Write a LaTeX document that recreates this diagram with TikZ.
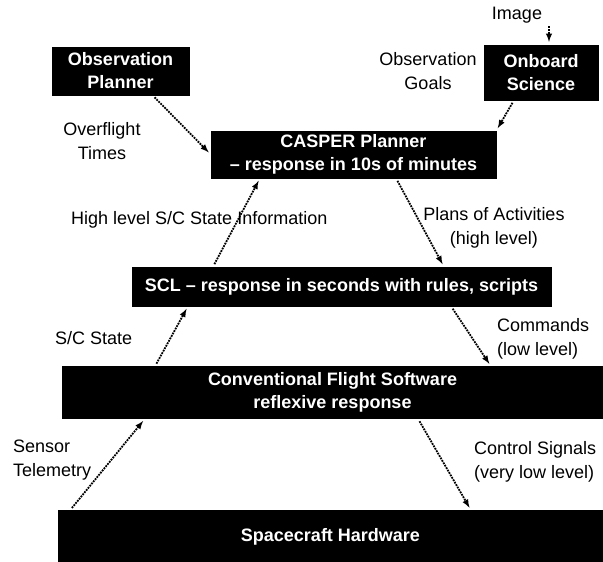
\documentclass[tikz,border=0pt]{standalone}
\usepackage{fontspec}
\setmainfont{Liberation Sans}
\usetikzlibrary{arrows}
\usetikzlibrary{positioning,calc}

\begin{document}
\begin{tikzpicture}[x=1pt,y=-1pt,box/.style={draw=black, fill=black, text=white, font=\fontsize{18}{23}\selectfont\bfseries, align=center, inner sep=0pt},lbl/.style={font=\fontsize{18}{24}\selectfont, align=center, inner sep=0pt},flow/.style={densely dotted, line width=1.8pt, ->, >= latex, shorten >=3pt, shorten <=3pt}]
			
			\useasboundingbox (0,0) rectangle (603,562);
			
			\node[box, minimum width=137pt, minimum height=48pt] (obs) at (120.5,71) {Observation\\Planner};
			\node[box, minimum width=114pt, minimum height=55pt] (onb) at (541,72.5) {Onboard\\Science};
			\node[box, minimum width=285pt, minimum height=47pt] (casper) at (353.5,154.5) {CASPER Planner\\– response in 10s of minutes};
			\node[box, minimum width=419pt, minimum height=39pt] (scl) at (341.5,286.5) {SCL – response in seconds with rules, scripts};
			\node[box, minimum width=541pt, minimum height=52pt] (cfs) at (332.5,392.5) {Conventional Flight Software\\reflexive response};
			\node[box, minimum width=545pt, minimum height=52pt] (hw) at (330.5,536.5) {Spacecraft Hardware};
			
			\node[lbl] (img) at (517,15) {Image};
			\node[lbl] (goals) at (428,71) {Observation\\Goals};
			\node[lbl] (over) at (102,141) {Overflight\\Times};
			\node[lbl, anchor=west] (hist) at (71,220) {High level S/C State Information};
			\node[lbl] (plans) at (494,228) {Plans of Activities\\(high level)};
			\node[lbl, anchor=west] (scst) at (55,338) {S/C State};
			\node[lbl, anchor=west, align=left] (cmd) at (497,338.5) {Commands\\(low level)};
			\node[lbl, anchor=west, align=left] (tele) at (13,460.5) {Sensor\\Telemetry};
			\node[lbl, anchor=west, align=left] (ctrl) at (474,462) {Control Signals\\(very low level)};
			
			\draw[flow] ([xshift=8pt]onb.north |- img.south) -- ([xshift=8pt]onb.north);
			\draw[flow] ([xshift=32pt]obs.south) -- (casper.west);
			\draw[flow] ([xshift=-27pt]onb.south) -- (casper.north east);
			\draw[flow] ([xshift=-128.5pt]scl.north) -- ([xshift=-93.5pt]casper.south);
			\draw[flow] ([xshift=42.5pt]casper.south) -- ([xshift=102.5pt]scl.north);
			\draw[flow] ([xshift=-177.5pt]cfs.north) -- ([xshift=-153.5pt]scl.south);
			\draw[flow] ([xshift=109.5pt]scl.south) -- ([xshift=158.5pt]cfs.north);
			\draw[flow] ([xshift=-260.5pt]hw.north) -- ([xshift=-187.5pt]cfs.south);
			\draw[flow] ([xshift=85.5pt]cfs.south) -- ([xshift=140.5pt]hw.north);
			
\end{tikzpicture}
\end{document}
